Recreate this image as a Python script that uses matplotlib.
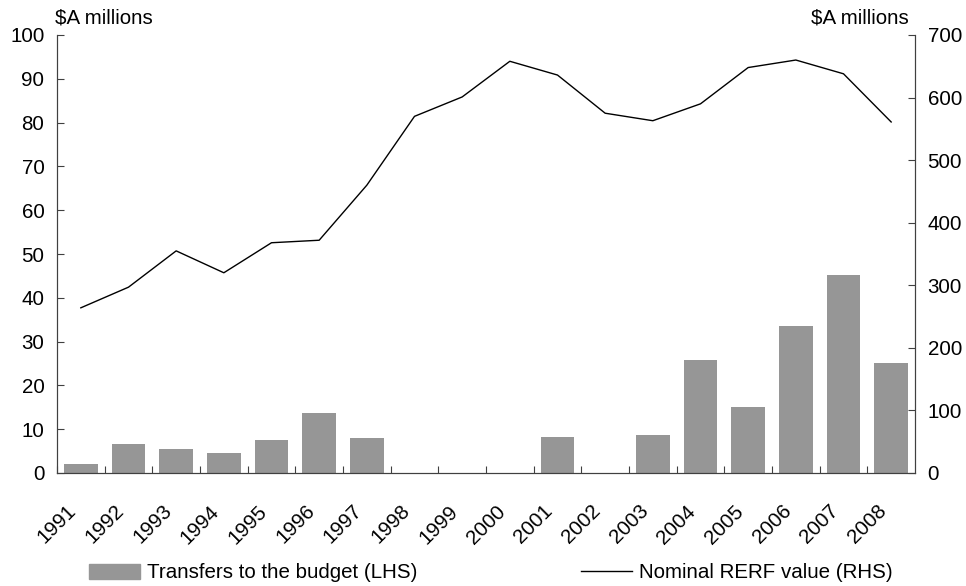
import numpy as np
import matplotlib.pyplot as plt
from matplotlib.patches import Patch
from matplotlib.lines import Line2D

plt.rcParams['font.family'] = ['Liberation Sans', 'DejaVu Sans']

years = [str(y) for y in range(1991, 2009)]
transfers = [2.0, 6.6, 5.5, 4.5, 7.6, 13.6, 8.1, 0, 0, 0, 8.2, 0, 8.6, 25.8, 15.1, 33.6, 45.2, 25.1]
rerf = [264, 297, 355, 320, 368, 372, 460, 570, 601, 658, 636, 575, 563, 590, 648, 660, 638, 561]

grey = '#969696'
axis_col = '#404040'
fs = 14.8

fig = plt.figure(figsize=(9.66, 5.86), dpi=100)
ax = fig.add_axes([57 / 966, 113 / 586, 858 / 966, 438 / 586])
ax2 = ax.twinx()

x = np.arange(len(years)) + 0.5
ax.bar(x, transfers, width=0.71, color=grey, zorder=2)
ax2.plot(x, rerf, color='black', lw=1.0)

ax.set_xlim(0, len(years))
ax.set_ylim(0, 100)
ax2.set_ylim(0, 700)
ax.set_yticks(range(0, 101, 10))
ax2.set_yticks(range(0, 701, 100))

# year ticks sit on the slot boundaries, labels under each slot
ax.set_xticks(np.arange(len(years)))
ax.set_xticklabels([])
for xi, lab in zip(x, years):
    ax.text(xi - 0.3, -6.5, lab, rotation=45, ha='right', va='top',
            rotation_mode='anchor', fontsize=fs, transform=ax.transData)

for a in (ax, ax2):
    a.spines['top'].set_visible(False)
    for s in ('left', 'right', 'bottom'):
        a.spines[s].set_color(axis_col)
    a.tick_params(direction='in', color=axis_col, labelsize=fs, length=5)
ax.tick_params(axis='y', pad=9)
ax2.tick_params(axis='y', pad=9)

fig.text(55 / 966, 1 - 18 / 586, '\\$A millions', ha='left', va='center', fontsize=fs)
fig.text(909 / 966, 1 - 18 / 586, '\\$A millions', ha='right', va='center', fontsize=fs)

h1 = Patch(color=grey)
h2 = Line2D([], [], color='black', lw=1.0)
leg_kw = dict(frameon=False, fontsize=fs, borderpad=0, borderaxespad=0,
              handlelength=2.5, handletextpad=0.3, loc='center left')
fig.legend([h1], ['Transfers to the budget (LHS)'],
           bbox_to_anchor=(89 / 966, 1 - 573 / 586), **leg_kw)
fig.legend([h2], ['Nominal RERF value (RHS)'],
           bbox_to_anchor=(581 / 966, 1 - 573 / 586), **leg_kw)

fig.savefig('out.png', dpi=100)
